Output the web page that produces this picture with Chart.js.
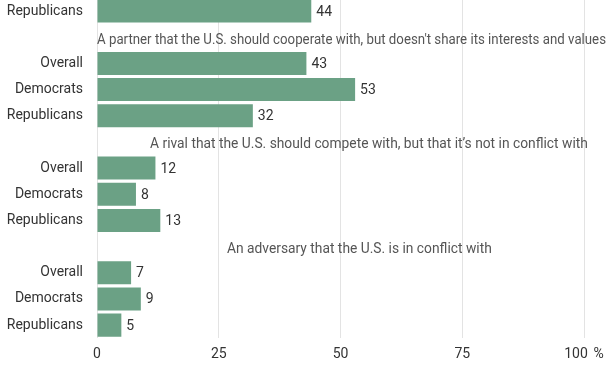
<!DOCTYPE html>
<html>
<head>
<meta charset="utf-8">
<script src="https://cdn.jsdelivr.net/npm/chart.js@4"></script>
<style>
  html, body { margin: 0; padding: 0; background: #fff; overflow: hidden; }
  #wrap { position: absolute; left: 0; top: -2px; width: 612px; height: 376px; }
</style>
</head>
<body>
<div id="wrap"><canvas id="c" width="612" height="376"></canvas></div>
<script>
// rows of the chart (empty label = heading row)
const rowLabels = [
  "Republicans", "",
  "Overall", "Democrats", "Republicans", "",
  "Overall", "Democrats", "Republicans", "",
  "Overall", "Democrats", "Republicans"
];
const shares = [44, null, 43, 53, 32, null, 12, 8, 13, null, 7, 9, 5];

// group headings
const headingRows = [1, 5, 9];
const headingTexts = [
  "A partner that the U.S. should cooperate with, but doesn't share its interests and values",
  "A rival that the U.S. should compete with, but that it\u2019s not in conflict with",
  "An adversary that the U.S. is in conflict with"
];
const headingStarts = [0, 10.9, 26.7]; // x value where each heading text begins

const xTicks = [0, 25, 50, 75, 100];

const BAR = "#6ba185";
const FONT = "Roboto, 'Noto Sans', sans-serif";

const valueLabels = {
  id: "valueLabels",
  afterDatasetsDraw(chart) {
    const ctx = chart.ctx;
    const meta = chart.getDatasetMeta(0);
    ctx.save();
    ctx.font = "14px " + FONT;
    ctx.fillStyle = "#333";
    ctx.textBaseline = "middle";
    ctx.textAlign = "left";
    meta.data.forEach((bar, i) => {
      if (shares[i] == null) return;
      ctx.fillText(String(shares[i]), bar.x + 5, bar.y + 1);
    });
    ctx.restore();
  }
};

const headingLabels = {
  id: "headingLabels",
  afterDatasetsDraw(chart) {
    const ctx = chart.ctx;
    const xs = chart.scales.x, ys = chart.scales.y;
    ctx.save();
    ctx.font = "13.8px " + FONT;
    ctx.fillStyle = "#555";
    ctx.textBaseline = "middle";
    ctx.textAlign = "left";
    headingRows.forEach((row, k) => {
      const x = xs.getPixelForValue(headingStarts[k]);
      ctx.fillText(headingTexts[k], x, ys.getPixelForValue(row) + 3, chart.width - x - 6);
    });
    ctx.restore();
  }
};

new Chart(document.getElementById("c"), {
  type: "bar",
  data: {
    labels: rowLabels,
    datasets: [{
      data: shares,
      backgroundColor: BAR,
      borderWidth: 0,
      barPercentage: 0.88,
      categoryPercentage: 1
    }]
  },
  options: {
    indexAxis: "y",
    responsive: false,
    animation: false,
    events: [],
    layout: { padding: { top: 0, right: 28, bottom: 3, left: 0 } },
    plugins: { legend: { display: false }, tooltip: { enabled: false } },
    scales: {
      x: {
        min: 0,
        max: 100,
        afterBuildTicks(scale) { scale.ticks = xTicks.map(v => ({ value: v })); },
        afterFit(scale) { scale.paddingLeft = 0; scale.paddingRight = 0; },
        grid: { color: "#e3e3e3", drawTicks: false, lineWidth: 1 },
        border: { display: false },
        ticks: {
          padding: 8,
          color: "#333",
          font: { family: FONT, size: 14 },
          maxRotation: 0,
          callback: v => (v === 100 ? "100\u2009\u2009%" : String(v))
        }
      },
      y: {
        afterFit(scale) { scale.width = 97; scale.paddingTop = 0; scale.paddingBottom = 0; },
        grid: { display: false, drawTicks: false },
        border: { display: false },
        ticks: {
          padding: 14,
          color: "#333",
          autoSkip: false,
          font: { family: FONT, size: 14 }
        }
      }
    }
  },
  plugins: [valueLabels, headingLabels]
});
</script>
</body>
</html>
